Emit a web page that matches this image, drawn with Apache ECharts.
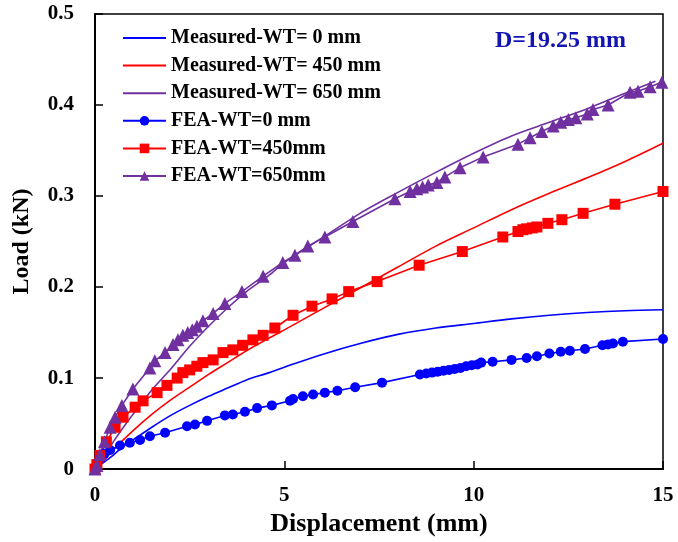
<!DOCTYPE html>
<html>
<head>
<meta charset="utf-8">
<script src="https://cdn.jsdelivr.net/npm/echarts@6/dist/echarts.min.js"></script>
<style>html,body{margin:0;padding:0;background:#fff}#c{width:678px;height:542px}</style>
</head>
<body>
<div id="c"></div>
<script>
var xTicks = [0, 5, 10, 15];
var yTicks = ['0', '0.1', '0.2', '0.3', '0.4', '0.5'];
var seriesNames = ['Measured-WT= 0 mm', 'Measured-WT= 450 mm', 'Measured-WT= 650 mm', 'FEA-WT=0 mm', 'FEA-WT=450mm', 'FEA-WT=650mm'];

var measured0 = [[0,0],[0.25,0.008],[0.5,0.016],[0.75,0.025],[1,0.032],[1.5,0.046],[2,0.059],[2.5,0.07],[3,0.08],[3.5,0.089],[4,0.098],[4.6,0.106],[5,0.112],[6,0.126],[7,0.138],[8,0.148],[9,0.155],[10,0.16],[11,0.165],[12,0.169],[13,0.172],[14,0.174],[15,0.175]];
var measured450 = [[0,0],[0.25,0.01],[0.5,0.022],[1,0.042],[1.5,0.06],[2,0.076],[2.5,0.09],[3,0.104],[3.5,0.117],[4,0.13],[4.6,0.144],[5,0.153],[6,0.176],[7,0.199],[8,0.222],[9,0.245],[10,0.265],[11,0.285],[12,0.303],[13,0.32],[14,0.338],[15,0.358]];
var measured650 = [[0,0],[0.25,0.015],[0.5,0.031],[0.75,0.046],[1,0.06],[1.5,0.087],[2,0.11],[2.5,0.135],[3,0.157],[3.5,0.177],[4,0.195],[4.6,0.213],[5,0.227],[6,0.254],[7,0.281],[8,0.304],[9,0.326],[10,0.347],[11,0.366],[12,0.381],[13,0.396],[14,0.413],[14.8,0.426]];
var fea0 = [[0,0],[0.05,0.006],[0.13,0.012],[0.25,0.017],[0.4,0.021],[0.66,0.026],[0.92,0.029],[1.19,0.032],[1.45,0.036],[1.85,0.04],[2.43,0.047],[2.64,0.049],[2.96,0.053],[3.43,0.059],[3.64,0.06],[3.96,0.063],[4.28,0.067],[4.67,0.07],[5.15,0.075],[5.23,0.077],[5.49,0.08],[5.76,0.082],[6.07,0.084],[6.4,0.086],[6.87,0.09],[7.58,0.095],[8.58,0.104],[8.75,0.105],[8.9,0.106],[9.05,0.107],[9.2,0.108],[9.35,0.109],[9.5,0.11],[9.65,0.111],[9.8,0.113],[9.95,0.114],[10.1,0.115],[10.2,0.117],[10.5,0.118],[11.0,0.12],[11.4,0.122],[11.67,0.124],[12.0,0.127],[12.3,0.129],[12.54,0.13],[12.94,0.132],[13.4,0.136],[13.55,0.137],[13.68,0.138],[13.94,0.14],[15,0.143]];
var fea450 = [[0,0],[0.05,0.005],[0.13,0.015],[0.3,0.03],[0.53,0.046],[0.74,0.057],[1.06,0.068],[1.27,0.075],[1.64,0.084],[1.9,0.092],[2.17,0.1],[2.32,0.106],[2.5,0.109],[2.69,0.113],[2.85,0.117],[3.12,0.12],[3.38,0.128],[3.64,0.131],[3.9,0.136],[4.17,0.142],[4.44,0.147],[4.75,0.155],[5.23,0.169],[5.73,0.179],[6.26,0.187],[6.7,0.195],[7.45,0.206],[8.56,0.224],[9.7,0.239],[10.77,0.255],[11.17,0.261],[11.3,0.263],[11.4,0.264],[11.55,0.265],[11.67,0.266],[11.96,0.27],[12.33,0.274],[12.89,0.281],[13.73,0.291],[15,0.305]];
var fea650 = [[0,0],[0.05,0.004],[0.13,0.016],[0.25,0.03],[0.4,0.046],[0.53,0.057],[0.71,0.07],[1.0,0.088],[1.45,0.111],[1.58,0.119],[1.85,0.128],[2.06,0.137],[2.19,0.142],[2.32,0.147],[2.45,0.15],[2.57,0.153],[2.69,0.157],[2.85,0.163],[3.12,0.171],[3.43,0.182],[3.88,0.195],[4.44,0.212],[4.96,0.227],[5.28,0.235],[5.62,0.245],[6.07,0.255],[6.81,0.272],[7.92,0.297],[8.32,0.305],[8.5,0.308],[8.65,0.31],[8.8,0.312],[9.03,0.315],[9.24,0.321],[9.64,0.331],[10.25,0.343],[11.17,0.357],[11.49,0.364],[11.8,0.371],[12.1,0.377],[12.3,0.381],[12.5,0.384],[12.7,0.386],[13.0,0.39],[13.15,0.395],[13.55,0.4],[14.13,0.414],[14.34,0.415],[14.66,0.42],[14.97,0.425]];

var BLUE = '#0000ff', RED = '#ff0000', PURPLE = '#7030a0';
var FONT = 'Liberation Serif';

var chart = echarts.init(document.getElementById('c'), null, {renderer: 'canvas'});
function lineS(name, data, color) {
  return {name: name, type: 'line', data: data, showSymbol: false, symbol: 'circle', symbolSize: 0, smooth: 0.3,
    lineStyle: {color: color, width: 1.6}, itemStyle: {color: color, opacity: 0}, z: 2, animation: false};
}
function feaS(name, data, color, symbol, size) {
  return {name: name, type: 'line', data: data, symbol: symbol, symbolSize: size, showSymbol: true,
    lineStyle: {color: color, width: 1.6}, itemStyle: {color: color}, z: 3, animation: false};
}
chart.setOption({
  animation: false,
  backgroundColor: '#fff',
  grid: {left: 95, right: 15, top: 14, bottom: 70, show: true, borderColor: '#000', borderWidth: 1.5, containLabel: false},
  legend: {
    orient: 'vertical', left: 117, top: 23, itemWidth: 43, itemHeight: 12, itemGap: 7.6,
    textStyle: {fontFamily: FONT, fontWeight: 'bold', fontSize: 20, color: '#000'},
    data: seriesNames
  },
  graphic: [{type: 'text', left: 495, top: 29, style: {text: 'D=19.25 mm', fontFamily: FONT, fontWeight: 'bold', fontSize: 24, fill: '#1414b4'}}],
  xAxis: {
    type: 'value', min: xTicks[0], max: xTicks[xTicks.length - 1], interval: 5,
    name: 'Displacement (mm)', nameLocation: 'middle', nameGap: 38,
    nameTextStyle: {fontFamily: FONT, fontWeight: 'bold', fontSize: 26, color: '#000'},
    axisLine: {lineStyle: {color: '#000', width: 2}},
    axisTick: {inside: true, length: 8, lineStyle: {color: '#000', width: 1.5}},
    axisLabel: {margin: 16, fontFamily: FONT, fontWeight: 'bold', fontSize: 21, color: '#000'},
    splitLine: {show: false}
  },
  yAxis: {
    type: 'value', min: 0, max: 0.5, interval: 0.1,
    name: 'Load (kN)', nameLocation: 'middle', nameGap: 61,
    nameTextStyle: {fontFamily: FONT, fontWeight: 'bold', fontSize: 24, color: '#000'},
    axisLine: {lineStyle: {color: '#000', width: 2}},
    axisTick: {inside: true, length: 8, lineStyle: {color: '#000', width: 1.5}},
    axisLabel: {margin: 21, fontFamily: FONT, fontWeight: 'bold', fontSize: 21, color: '#000',
      formatter: function (v) { return yTicks[Math.round(v * 10)]; }},
    splitLine: {show: false}
  },
  series: [
    lineS(seriesNames[0], measured0, BLUE),
    lineS(seriesNames[1], measured450, RED),
    lineS(seriesNames[2], measured650, PURPLE),
    feaS(seriesNames[3], fea0, BLUE, 'circle', 10),
    feaS(seriesNames[4], fea450, RED, 'rect', 11),
    feaS(seriesNames[5], fea650, PURPLE, 'triangle', 13)
  ]
});
</script>
</body>
</html>
